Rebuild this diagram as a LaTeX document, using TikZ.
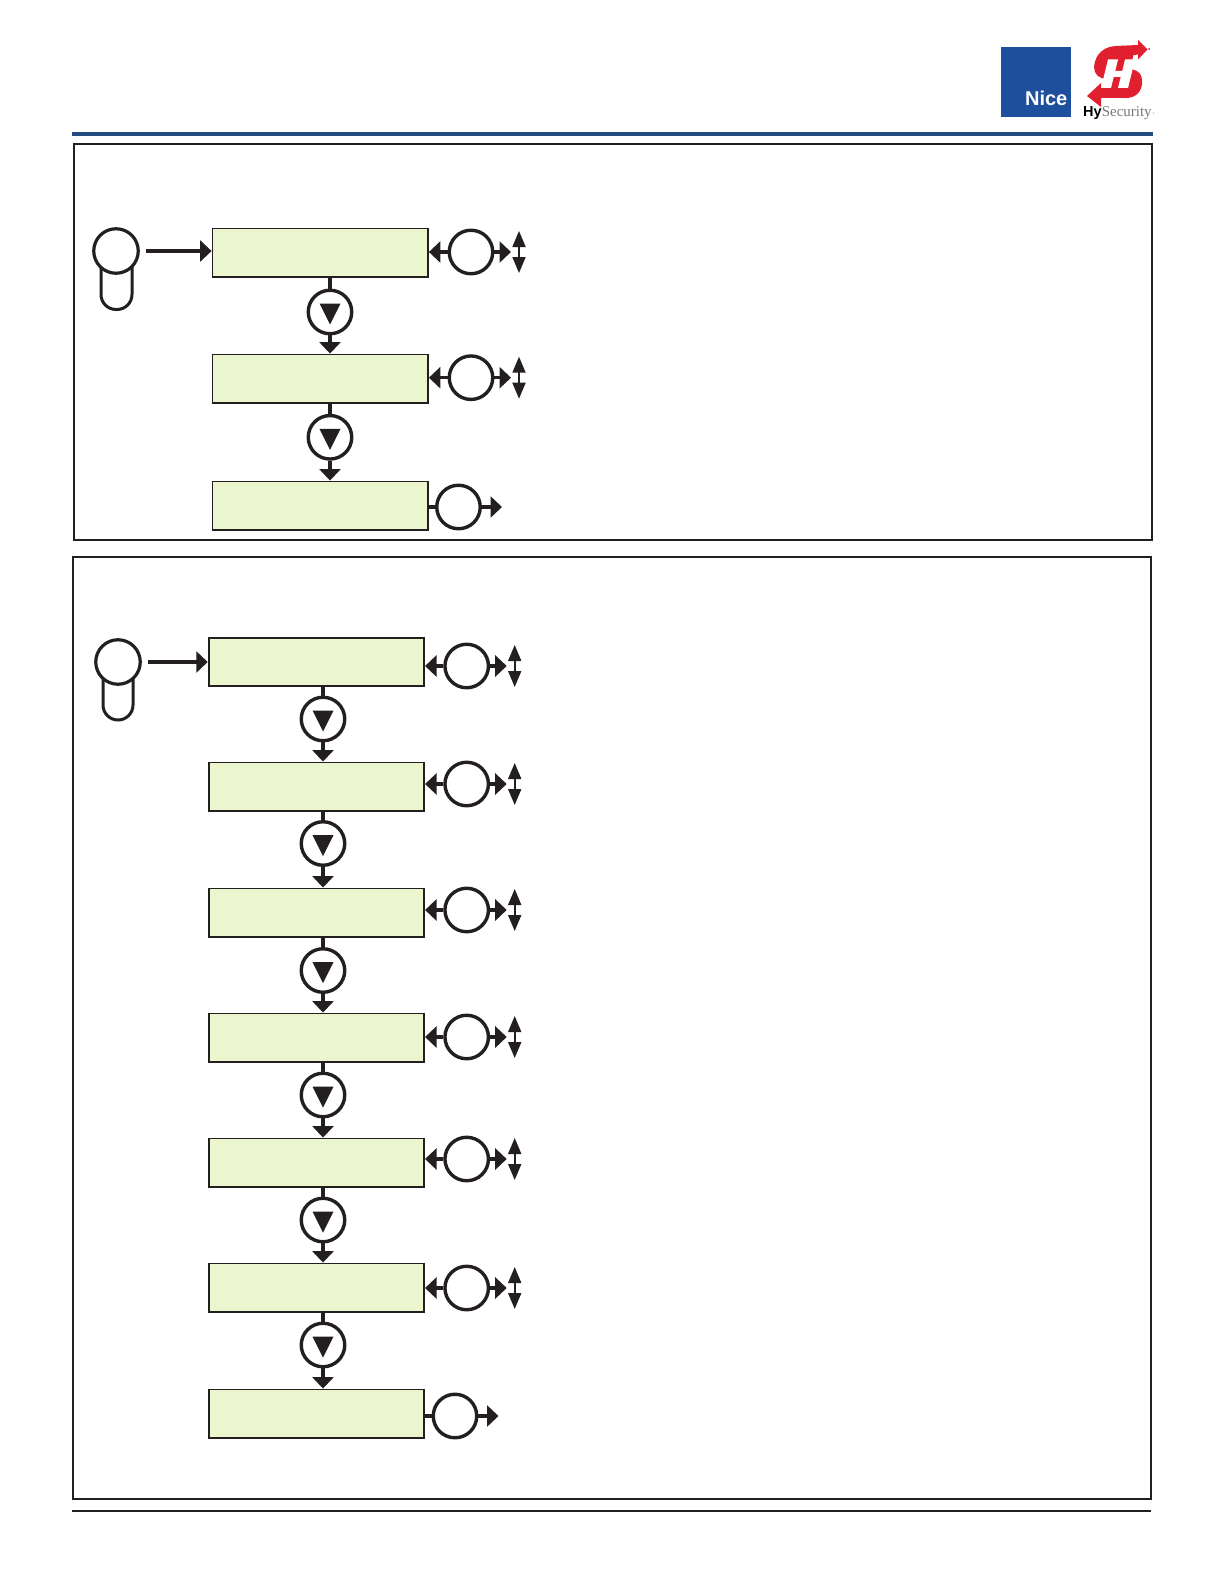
\documentclass[tikz,border=0pt]{standalone}
\usepackage{fontspec}
\setmainfont{Liberation Sans}
\newfontfamily\serifpart{Liberation Serif}
\usetikzlibrary{arrows.meta,calc}
\definecolor{ink}{HTML}{231F20}
\definecolor{lcdgreen}{HTML}{EBF6CF}
\definecolor{niceblue}{HTML}{1D4F9C}
\definecolor{rule}{HTML}{254A80}
\definecolor{hyred}{HTML}{E1202F}
\definecolor{hygray}{HTML}{77787B}
\tikzset{
  panel/.style={draw=ink,line width=2.2pt},
  lcd/.style={draw=ink,fill=lcdgreen,line width=1.8pt,minimum width=215.5pt,minimum height=48.5pt,inner sep=0pt},
  btn/.style={circle,draw=ink,fill=white,line width=3.4pt,minimum size=43.5pt,inner sep=0pt},
  keyc/.style={circle,draw=ink,fill=white,line width=3.2pt,minimum size=44.5pt,inner sep=0pt},
  pill/.style={draw=ink,line width=3pt,rounded corners=15pt},
  conn/.style={draw=ink,line width=3.5pt},
  arr/.style={conn,-{Triangle[length=11.5pt,width=21pt]}},
  updown/.style={draw=ink,line width=1.8pt,{Triangle[length=16pt,width=13pt]}-{Triangle[length=16pt,width=13pt]}},
  tri/.style={fill=ink}
}
\newcommand{\sidebtn}[4]{%
  \node[btn] (#1) at (#3,#4) {};
  \coordinate (#1r) at (#3+40,#4);
  \coordinate (#1u) at (#3+48,#4-21);
  \coordinate (#1d) at (#3+48,#4+21);
  \draw[arr] (#1.west) -- (#1.west -| #2.east);
  \draw[arr] (#1.east) -- (#1r);
  \draw[updown] (#1u) -- (#1d);
}
\newcommand{\lastbtn}[4]{%
  \node[btn] (#1) at (#3,#4) {};
  \coordinate (#1r) at (#3+43.5,#4);
  \draw[conn] (#1.west) -- (#1.west -| #2.east);
  \draw[arr] (#1.east) -- (#1r);
}
\newcommand{\downbtn}[5]{%
  \node[btn] (#1) at (#4,#5) {};
  \fill[tri] (#1) ++(-10.5,-8.5) -- ++(21,0) -- ++(-10.5,21) -- cycle;
  \draw[conn] (#1.north |- #2.south) -- (#1.north);
  \draw[arr] (#1.south) -- (#1.south |- #3.north);
}
\begin{document}
\begin{tikzpicture}[x=1pt,y=-1pt]
\useasboundingbox (0,0) rectangle (1224,1584);
\fill[white] (0,0) rectangle (1224,1584);

% header
\draw[rule,line width=4pt] (72,134) -- (1153,134);
\fill[niceblue] (1001,47) rectangle (1071,117);
\node[anchor=base east,inner sep=0pt,text=white,font=\bfseries\fontsize{20}{20}\selectfont] (nice) at (1067.5,105.5) {Nice};
\fill[hyred] (1138,45) -- (1138,40) -- (1147.5,49.5) -- (1138,59.5) -- (1138,54.5) -- (1133.5,55)
  -- (1130,69) -- (1133,69.5) .. controls (1139,71) and (1142,75) .. (1142,80)
  .. controls (1143,91) and (1136,98) .. (1126,98) -- (1101,98) -- (1101,107) -- (1087,96) -- (1101,83) -- (1101,88)
  -- (1104,88) -- (1107,79) .. controls (1099,79) and (1094,74) .. (1094,67)
  .. controls (1095,54) and (1104,46.5) .. (1116,46) -- cycle;
\fill[hyred] (1149,49) circle (1);
\fill[white] (1108,59.5) -- (1118,59.5) -- (1115.2,71) -- (1122.2,71) -- (1125,59.5) -- (1135,59.5) -- (1128,88) -- (1118,88)
  -- (1120.7,77) -- (1113.7,77) -- (1111,88) -- (1101,88) -- cycle;
\node[anchor=base west,inner sep=0pt,text=black,font=\bfseries\fontsize{14.5}{15}\selectfont] (hy) at (1083,117)
  {Hy\textcolor{hygray}{\mdseries\serifpart\fontsize{15}{15}\selectfont Security}};
\fill[hygray] (1153.5,113) circle (0.5);

% frames
\draw[panel] (74,144) rectangle (1152,540);
\draw[panel] (73,557) rectangle (1151,1499);
\draw[ink,line width=1.8pt] (72,1511) -- (1151,1511);

% panel 1
\node[lcd] (a1) at (320.25,252.7) {};
\node[lcd] (a2) at (320.25,378.7) {};
\node[lcd] (a3) at (320.25,505.7) {};
\draw[pill] (101,255) -- (101,309.5) -- (132,309.5) -- (132,255);
\node[keyc] (ak) at (116,251) {};
\draw[arr] ([xshift=6.5pt]ak.east) -- (ak.east -| a1.west);
\sidebtn{as1}{a1}{471}{252}
\sidebtn{as2}{a2}{471}{377.7}
\lastbtn{as3}{a3}{458.5}{507}
\downbtn{ad1}{a1}{a2}{330}{312}
\downbtn{ad2}{a2}{a3}{330}{437.3}

% panel 2
\node[lcd] (b1) at (316.4,661.9) {};
\node[lcd] (b2) at (316.4,786.7) {};
\node[lcd] (b3) at (316.4,912.7) {};
\node[lcd] (b4) at (316.4,1037.7) {};
\node[lcd] (b5) at (316.4,1162.7) {};
\node[lcd] (b6) at (316.4,1287.7) {};
\node[lcd] (b7) at (316.4,1413.7) {};
\draw[pill] (103,665) -- (103,720) -- (133,720) -- (133,665);
\node[keyc] (bk) at (118,662) {};
\draw[arr] ([xshift=6.5pt]bk.east) -- (bk.east -| b1.west);
\sidebtn{bs1}{b1}{466.7}{666}
\sidebtn{bs2}{b2}{466.7}{784}
\sidebtn{bs3}{b3}{466.7}{910}
\sidebtn{bs4}{b4}{466.7}{1037}
\sidebtn{bs5}{b5}{466.7}{1159}
\sidebtn{bs6}{b6}{466.7}{1288}
\lastbtn{bs7}{b7}{455}{1416}
\downbtn{bd1}{b1}{b2}{323}{719}
\downbtn{bd2}{b2}{b3}{323}{843.5}
\downbtn{bd3}{b3}{b4}{323}{970.5}
\downbtn{bd4}{b4}{b5}{323}{1095}
\downbtn{bd5}{b5}{b6}{323}{1220}
\downbtn{bd6}{b6}{b7}{323}{1345}
\end{tikzpicture}
\end{document}
